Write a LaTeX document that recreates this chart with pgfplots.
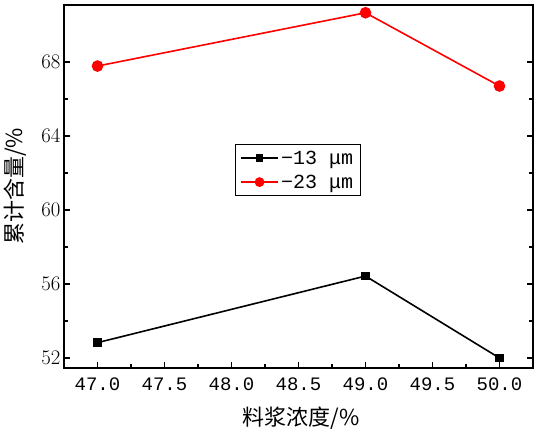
\documentclass[border=0pt]{standalone}
\usepackage{fontspec}
\setmainfont{Liberation Serif}
\newfontfamily\cjk{Noto Sans CJK SC}
\newfontfamily\mono{Liberation Mono}
\usepackage{pgfplots}
\pgfplotsset{compat=1.18}
\begin{document}
\begin{tikzpicture}
\begin{axis}[
    width=469pt, height=363pt,
    scale only axis=true,
    xmin=46.75, xmax=50.25,
    ymin=51.46, ymax=71.08,
    xtick={47,47.5,48,48.5,49,49.5,50},
    xticklabels={47.0,47.5,48.0,48.5,49.0,49.5,50.0},
    ytick={52,56,60,64,68},
    minor x tick num=1,
    minor y tick num=1,
    xtick pos=bottom,
    ytick pos=both,
    yticklabel pos=left,
    tick align=inside,
    major tick length=6pt,
    minor tick length=4pt,
    tick style={black, line width=1.2pt},
    axis line style={line width=2pt},
    xticklabel style={font=\mono\fontsize{19}{19}\selectfont, yshift=-6pt},
    yticklabel style={font=\fontsize{22}{22}\selectfont},
    xlabel={\cjk 料浆浓度/\%},
    ylabel={\cjk 累计含量/\%},
    label style={font=\fontsize{22}{22}\selectfont},
    xlabel style={at={(axis description cs:0.505,-0.138)}, anchor=center},
    ylabel style={at={(axis description cs:-0.1045,0.5)}, anchor=center},
    legend style={at={(rel axis cs:0.498,0.545)}, anchor=center,
        font=\mono\fontsize{20}{22}\selectfont, draw=black, thick,
        inner xsep=5pt, inner ysep=4pt, row sep=5pt},
    legend cell align=left,
    legend image post style={line width=2.2pt},
    legend image code/.code={
        \draw[mark repeat=2, mark phase=2, #1,
              every mark/.append style={scale=0.75}]
            plot coordinates {(0cm,0cm) (0.65cm,0cm) (1.3cm,0cm)};
    },
]
\addplot[black, line width=1.6pt, mark=square*, mark size=3.5pt,
    mark options={solid}] coordinates {
    (47, 52.83) (49, 56.43) (50, 52.0)
};
\addlegendentry{−13 μm}
\addplot[red, line width=1.6pt, mark=*, mark size=5pt,
    mark options={solid}] coordinates {
    (47, 67.78) (49, 70.66) (50, 66.70)
};
\addlegendentry{−23 μm}
\coordinate (SW) at (rel axis cs:0,0);
\coordinate (NE) at (rel axis cs:1,1);
\end{axis}
\pgfresetboundingbox
\path ([xshift=-64pt,yshift=-68pt]SW) rectangle ([xshift=5pt,yshift=5pt]NE);
\end{tikzpicture}
\end{document}
